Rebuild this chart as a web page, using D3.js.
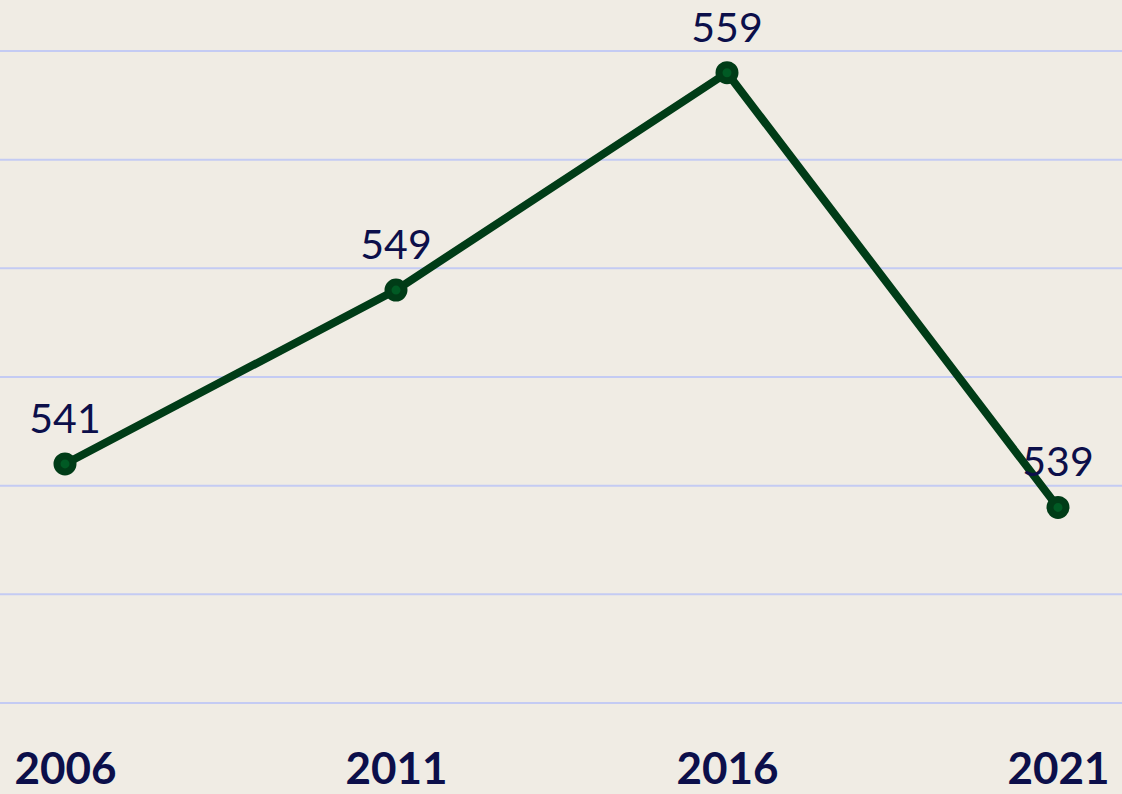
<!DOCTYPE html>
<html>
<head>
<meta charset="utf-8">
<script src="https://cdn.jsdelivr.net/npm/d3@7"></script>
<style>
  html, body { margin: 0; padding: 0; background: #f0ece4; }
  svg { display: block; }
</style>
</head>
<body>
<svg id="chart"></svg>
<script>
let years = ["2006", "2011", "2016", "2021"];
let values = [541, 549, 559, 539];
let gridValues = [530, 535, 540, 545, 550, 555, 560];

let width = 1122, height = 794;

let svg = d3.select("#chart").attr("width", width).attr("height", height);

svg.append("rect").attr("width", width).attr("height", height).attr("fill", "#f0ece4");

let x = d3.scalePoint().domain(years).range([65, 1058]);
let y = d3.scaleLinear().domain([530, 560]).range([703, 51]);

// gridlines
svg.append("g")
    .selectAll("line")
    .data(gridValues).enter()
    .append("line")
    .attr("x1", 0)
    .attr("x2", width)
    .attr("y1", d => y(d))
    .attr("y2", d => y(d))
    .attr("stroke", "#c4cbf3")
    .attr("stroke-width", 2);

// x axis labels
let xAxis = svg.append("g")
    .attr("transform", "translate(0,784)")
    .call(d3.axisBottom(x).tickSize(0).tickPadding(0));
xAxis.select(".domain").remove();
xAxis.selectAll("text")
    .attr("dy", 0)
    .attr("y", 0)
    .attr("font-family", "Lato, 'Open Sans', sans-serif")
    .attr("font-weight", "bold")
    .attr("font-size", 44)
    .attr("fill", "#0c0f4a");

let line = d3.line()
    .x((d, i) => x(years[i]))
    .y(d => y(d));

svg.append("path")
    .datum(values)
    .attr("d", line)
    .attr("fill", "none")
    .attr("stroke", "#003c17")
    .attr("stroke-width", 8)
    .attr("stroke-linejoin", "round");

svg.append("g")
    .selectAll("circle")
    .data(values).enter()
    .append("circle")
    .attr("cx", (d, i) => x(years[i]))
    .attr("cy", d => y(d))
    .attr("r", 8)
    .attr("fill", "#005a24")
    .attr("stroke", "#003c17")
    .attr("stroke-width", 7);

// value labels
svg.append("g")
    .selectAll("text")
    .data(values).enter()
    .append("text")
    .attr("x", (d, i) => x(years[i]))
    .attr("y", d => y(d) - 31)
    .attr("text-anchor", "middle")
    .attr("font-family", "Lato, 'Open Sans', sans-serif")
    .attr("font-size", 41)
    .attr("fill", "#0c0f4a")
    .text(d => d);
</script>
</body>
</html>
